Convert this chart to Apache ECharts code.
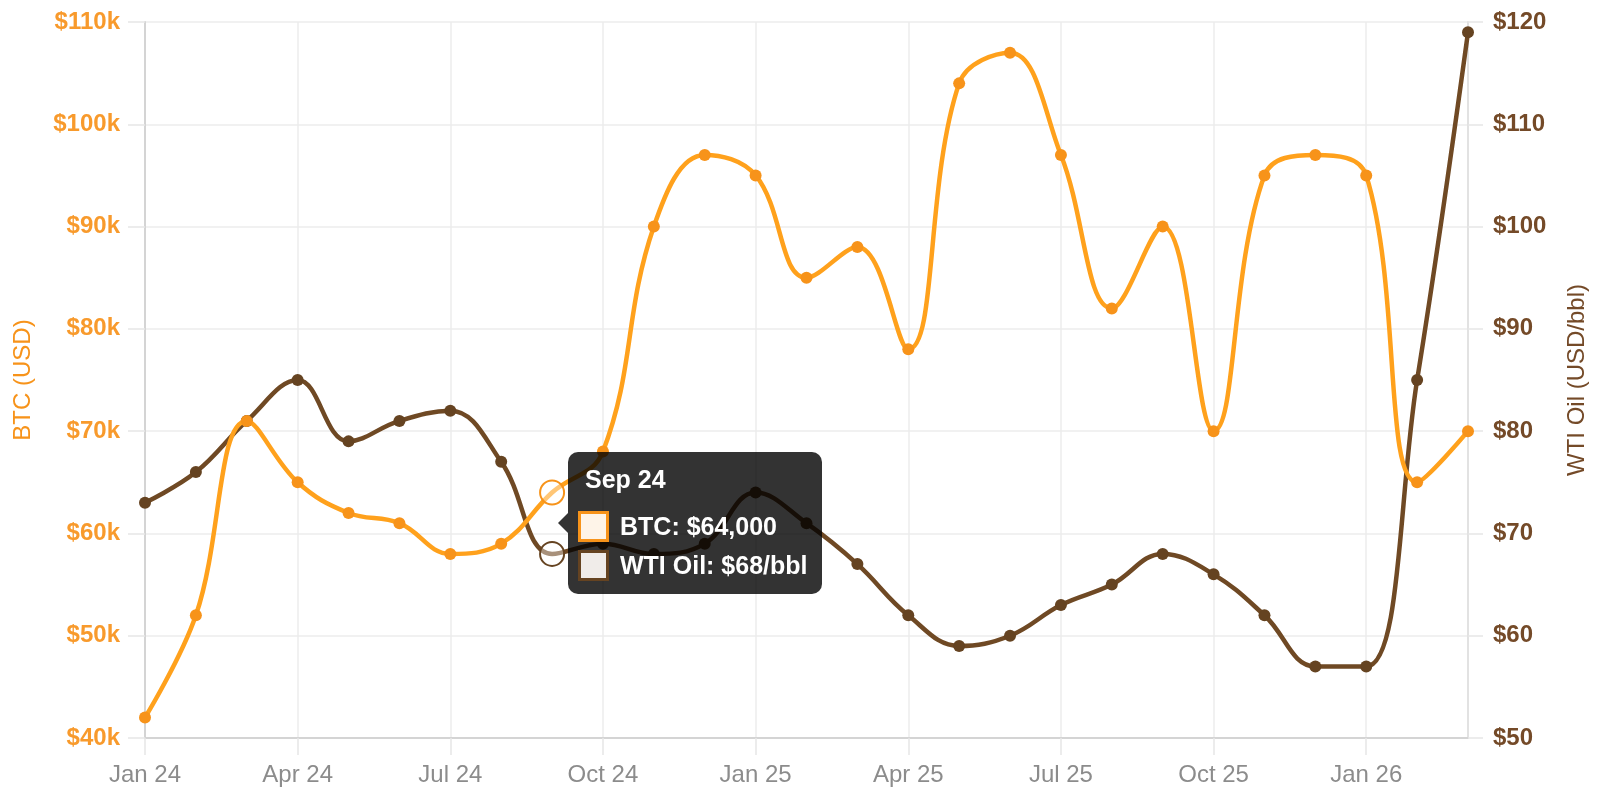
<!DOCTYPE html>
<html>
<head>
<meta charset="utf-8">
<title>BTC vs WTI Oil</title>
<script src="https://cdn.jsdelivr.net/npm/echarts@6/dist/echarts.min.js"></script>
<style>
    html, body { margin: 0; padding: 0; background: #fff; }
    #chart { width: 1600px; height: 800px; }
</style>
</head>
<body>
<div id="chart"></div>
<script>
/* data */
var months = ['Jan 24','Feb 24','Mar 24','Apr 24','May 24','Jun 24','Jul 24','Aug 24','Sep 24','Oct 24','Nov 24','Dec 24',
              'Jan 25','Feb 25','Mar 25','Apr 25','May 25','Jun 25','Jul 25','Aug 25','Sep 25','Oct 25','Nov 25','Dec 25',
              'Jan 26','Feb 26','Mar 26'];
var btcPrice = [42000,52000,71000,65000,62000,61000,58000,59000,64000,68000,90000,97000,
                95000,85000,88000,78000,104000,107000,97000,82000,90000,70000,95000,97000,
                95000,65000,70000];
var wtiPrice = [73,76,81,85,79,81,82,77,68,69,68,69,
                74,71,67,62,59,60,63,65,68,66,62,57,
                57,85,119];
var btcTicks = [40000, 110000, 10000];   // min, max, step
var wtiTicks = [50, 120, 10];
var tipIndex = 8;   // Sep 24

var ORANGE = '#f7931a';
var BROWN = '#654321';
var FONT = 'Liberation Sans, Arial, sans-serif';

var box = document.getElementById('chart');
var myChart = echarts.init(box);

var option = {
    animation: false,
    textStyle: { fontFamily: FONT },
    grid: { left: 145, right: 132, top: 22, bottom: 62 },
    tooltip: {
        trigger: 'axis',
        alwaysShowContent: true,
        axisPointer: { type: 'none' },
        backgroundColor: 'rgba(0,0,0,0.8)',
        borderWidth: 0,
        borderRadius: 10,
        padding: [12, 14, 10, 10],
        extraCssText: 'box-shadow:none;',
        transitionDuration: 0,
        position: function (point, params, dom, rect, size) {
            var i = params[0].dataIndex;
            var p1 = myChart.convertToPixel({ xAxisIndex: 0, yAxisIndex: 0 }, [i, btcPrice[i]]);
            var p2 = myChart.convertToPixel({ xAxisIndex: 0, yAxisIndex: 1 }, [i, wtiPrice[i]]);
            return [p1[0] + 16, (p1[1] + p2[1]) / 2 - size.contentSize[1] / 2];
        },
        formatter: function (params) {
            var i = params[0].dataIndex;
            var sq = function (border, fill) {
                return '<span style="display:inline-block;box-sizing:border-box;width:31px;height:31px;' +
                    'border:3px solid ' + border + ';background:' + fill + ';vertical-align:middle;margin-right:11px;"></span>';
            };
            var row = 'font:bold 25px ' + FONT + ';color:#fff;line-height:37px;white-space:nowrap;';
            return '<div style="position:absolute;left:-10px;top:50%;margin-top:-10px;width:0;height:0;' +
                    'border-top:10px solid transparent;border-bottom:10px solid transparent;' +
                    'border-right:10px solid rgba(0,0,0,0.8);"></div>' +
                '<div style="font:bold 25px ' + FONT + ';color:#fff;line-height:30px;padding-left:7px;margin-bottom:12px;">' +
                    months[i] + '</div>' +
                '<div style="' + row + '">' + sq(ORANGE, '#fef4e8') +
                    '<span style="vertical-align:middle;">BTC: $' + btcPrice[i].toLocaleString('en-US') + '</span></div>' +
                '<div style="' + row + '">' + sq(BROWN, '#f0ece9') +
                    '<span style="vertical-align:middle;">WTI Oil: $' + wtiPrice[i] + '/bbl</span></div>';
        }
    },
    xAxis: {
        type: 'category',
        boundaryGap: false,
        data: months,
        axisLine: { lineStyle: { color: '#d4d4d4', width: 2 } },
        axisTick: { interval: 2, length: 17, lineStyle: { color: '#e6e6e6', width: 1.5 } },
        axisLabel: { interval: 2, color: '#8c8c8c', fontSize: 24, margin: 25, fontFamily: FONT },
        splitLine: { show: true, interval: 2, lineStyle: { color: '#ececec', width: 1.5 } }
    },
    yAxis: [
        {
            type: 'value',
            position: 'left',
            min: btcTicks[0],
            max: btcTicks[1],
            interval: btcTicks[2],
            name: 'BTC (USD)',
            nameLocation: 'middle',
            nameGap: 110,
            nameTextStyle: { color: ORANGE, fontSize: 24, fontFamily: FONT },
            axisLine: { show: true, lineStyle: { color: '#d4d4d4', width: 2 } },
            axisTick: { show: true, length: 17, lineStyle: { color: '#e6e6e6', width: 1.5 } },
            axisLabel: {
                color: '#f89a2c', fontSize: 24, fontWeight: 'bold', margin: 25, fontFamily: FONT,
                formatter: function (v) { return '$' + (v / 1000) + 'k'; }
            },
            splitLine: { lineStyle: { color: '#ececec', width: 1.5 } }
        },
        {
            type: 'value',
            position: 'right',
            min: wtiTicks[0],
            max: wtiTicks[1],
            interval: wtiTicks[2],
            name: 'WTI Oil (USD/bbl)',
            nameLocation: 'middle',
            nameGap: 97,
            nameTextStyle: { color: '#744a28', fontSize: 24, fontFamily: FONT },
            axisLine: { show: true, lineStyle: { color: '#e2e2e2', width: 2 } },
            axisTick: { show: true, length: 15, lineStyle: { color: '#e6e6e6', width: 1.5 } },
            axisLabel: {
                color: '#744a28', fontSize: 24, fontWeight: 'bold', margin: 25, fontFamily: FONT,
                formatter: function (v) { return '$' + v; }
            },
            splitLine: { show: false }
        }
    ],
    series: [
        {
            name: 'BTC',
            type: 'line',
            yAxisIndex: 0,
            data: btcPrice,
            smooth: 0.4,
            symbol: 'circle',
            symbolSize: 12,
            z: 3,
            lineStyle: { color: ORANGE, width: 4.5 },
            itemStyle: { color: ORANGE },
            emphasis: {
                scale: 2,
                lineStyle: { width: 4.5 },
                itemStyle: { color: 'rgba(255,255,255,0.4)', borderColor: ORANGE, borderWidth: 2 }
            }
        },
        {
            name: 'WTI Oil',
            type: 'line',
            yAxisIndex: 1,
            data: wtiPrice,
            smooth: 0.4,
            symbol: 'circle',
            symbolSize: 12,
            z: 2,
            lineStyle: { color: BROWN, width: 4.5 },
            itemStyle: { color: BROWN },
            emphasis: {
                scale: 2,
                lineStyle: { width: 4.5 },
                itemStyle: { color: 'rgba(255,255,255,0.4)', borderColor: BROWN, borderWidth: 2 }
            }
        }
    ]
};

myChart.setOption(option);

myChart.dispatchAction({ type: 'showTip', seriesIndex: 0, dataIndex: tipIndex });
myChart.dispatchAction({ type: 'highlight', seriesIndex: [0, 1], dataIndex: tipIndex });
</script>
</body>
</html>
